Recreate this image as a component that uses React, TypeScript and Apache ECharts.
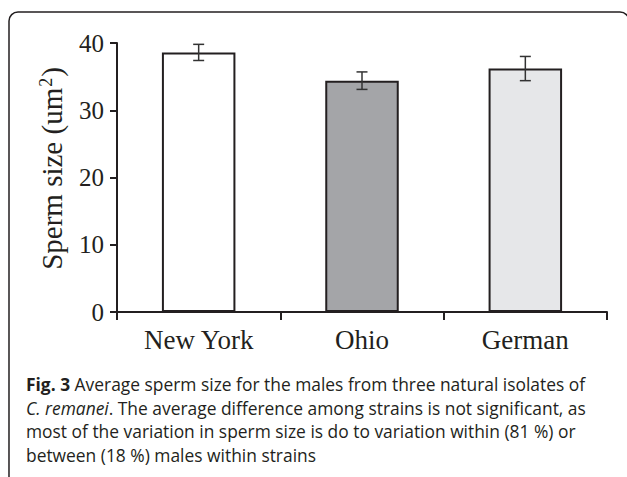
import React, { useEffect, useRef } from "react";
import * as echarts from "echarts";

const categories = ["New York", "Ohio", "German"];
const means = [38.6, 34.4, 36.2];
const errors = [1.2, 1.3, 1.8];
const yTicks = [0, 10, 20, 30, 40];

const BAR_COLORS = ["#ffffff", "#a4a5a8", "#e6e7e9"];
const INK = "#231f20";
const SERIF = "'Liberation Serif', 'Times New Roman', serif";
const SANS = "'Open Sans', 'Noto Sans', sans-serif";

const captionLines = [
  "{b|Fig. 3} Average sperm size for the males from three natural isolates of",
  "{i|C. remanei}. The average difference among strains is not significant, as",
  "most of the variation in sperm size is do to variation within (81 %) or",
  "between (18 %) males within strains",
];

export default function App() {
  const ref = useRef<HTMLDivElement>(null);
  useEffect(() => {
    if (!ref.current) return;
    const chart = echarts.init(ref.current, undefined, { renderer: "svg" });
    const option: any = {
      animation: false,
      backgroundColor: "#ffffff",
      grid: { left: 117, right: 20, top: 43, bottom: 165 },
      xAxis: {
        type: "category",
        data: categories,
        boundaryGap: true,
        axisLine: { show: true, lineStyle: { color: INK, width: 2 } },
        axisTick: { show: true, length: 8, lineStyle: { color: INK, width: 2 } },
        axisLabel: { color: INK, fontFamily: SERIF, fontSize: 27, margin: 14 },
      },
      yAxis: {
        type: "value",
        min: yTicks[0],
        max: yTicks[yTicks.length - 1],
        interval: 10,
        name: "{a|Sperm size (um}{s|2}{a|)}",
        nameLocation: "middle",
        nameGap: 50,
        nameRotate: 90,
        nameTextStyle: {
          padding: [0, 0, 0, 18],
          rich: {
            a: { fontFamily: SERIF, fontSize: 29, color: INK },
            s: { fontFamily: SERIF, fontSize: 18, color: INK, verticalAlign: "top", padding: [0, 1, 12, 1] },
          },
        },
        axisLine: { show: true, lineStyle: { color: INK, width: 2 } },
        axisTick: { show: true, length: 7, lineStyle: { color: INK, width: 2 } },
        axisLabel: { color: INK, fontFamily: SERIF, fontSize: 25, margin: 13 },
        splitLine: { show: false },
      },
      series: [
        {
          type: "bar",
          barWidth: "45%",
          data: means.map((v, i) => ({
            value: v,
            itemStyle: { color: BAR_COLORS[i], borderColor: INK, borderWidth: 2 },
          })),
        },
        {
          type: "custom",
          z: 10,
          encode: { x: 0, y: [1, 2] },
          data: means.map((m, i) => [i, m + errors[i], m - errors[i]]),
          renderItem: (params: any, api: any) => {
            const x = api.value(0);
            const hi = api.coord([x, api.value(1)]);
            const lo = api.coord([x, api.value(2)]);
            const half = 5.5;
            const style = { stroke: "#333333", lineWidth: 1.5 };
            return {
              type: "group",
              children: [
                { type: "line", shape: { x1: hi[0], y1: hi[1], x2: lo[0], y2: lo[1] }, style },
                { type: "line", shape: { x1: hi[0] - half, y1: hi[1], x2: hi[0] + half, y2: hi[1] }, style },
                { type: "line", shape: { x1: lo[0] - half, y1: lo[1], x2: lo[0] + half, y2: lo[1] }, style },
              ],
            };
          },
        },
      ],
      graphic: [
        {
          type: "rect",
          shape: { x: 9, y: 12, width: 620, height: 500, r: 9 },
          style: { fill: "none", stroke: INK, lineWidth: 1.5 },
          silent: true,
        },
        {
          type: "text",
          x: 26,
          y: 372,
          style: {
            text: captionLines.join("\n"),
            fontFamily: SANS,
            fontSize: 17.4,
            lineHeight: 23.7,
            fill: INK,
            verticalAlign: "top",
            rich: {
              b: { fontFamily: SANS, fontSize: 17.4, fontWeight: "bold", lineHeight: 23.7, fill: INK },
              i: { fontFamily: SANS, fontSize: 17.4, fontStyle: "italic", lineHeight: 23.7, fill: INK },
            },
          },
        },
      ],
    };
    chart.setOption(option);
    return () => chart.dispose();
  }, []);
  return (
    <div
      ref={ref}
      style={{ position: "absolute", left: 0, top: 0, width: 627, height: 477, background: "#fff" }}
    />
  );
}
